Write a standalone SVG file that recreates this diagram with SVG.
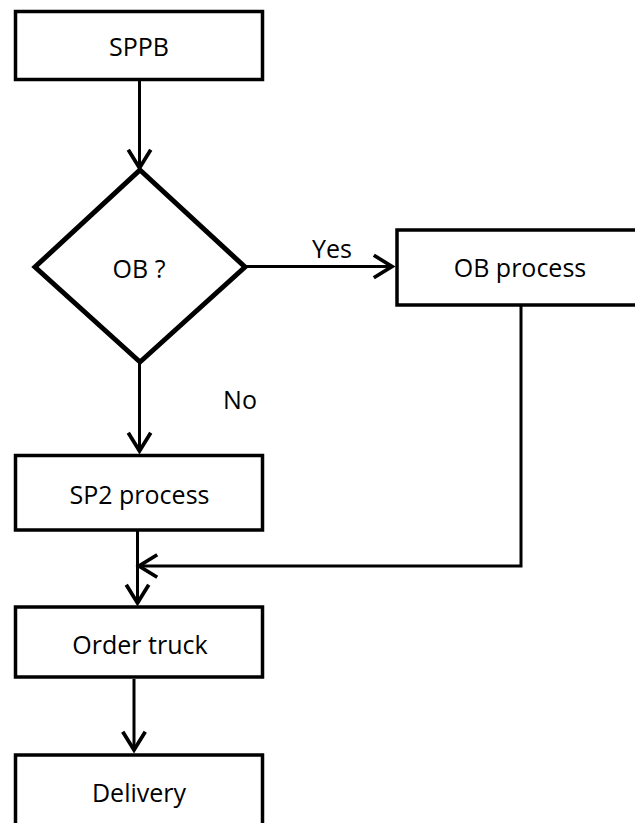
<svg xmlns="http://www.w3.org/2000/svg" width="635" height="823" viewBox="0 0 635 823">
<style>
.box{fill:#fff;stroke:#000;stroke-width:3.5}
.dia{fill:#fff;stroke:#000;stroke-width:5;stroke-linejoin:miter}
.lbl{font-family:"Open Sans","Noto Sans","Liberation Sans",sans-serif;font-size:25px;fill:#000;text-anchor:middle}
.con{fill:none;stroke:#000;stroke-width:3}
</style>
<defs>
<marker id="arr" markerUnits="userSpaceOnUse" markerWidth="30" markerHeight="30" viewBox="-20 -14 24 28" refX="0" refY="0" orient="auto" overflow="visible">
<path d="M-17,-10.5 L0,0 L-17,10.5" fill="none" stroke="#000" stroke-width="3.5"/>
</marker>
</defs>
<rect width="635" height="823" fill="#fff"/>
<g id="connectors">
<line class="con" x1="139.5" y1="80" x2="139.5" y2="168" marker-end="url(#arr)"/>
<line class="con" x1="139.5" y1="362" x2="139.5" y2="451" marker-end="url(#arr)"/>
<line class="con" x1="245" y1="266.5" x2="392" y2="266.5" marker-end="url(#arr)"/>
<polyline class="con" points="521,300 521,566 139,566" marker-end="url(#arr)"/>
<line class="con" x1="137.5" y1="531" x2="137.5" y2="603" marker-end="url(#arr)"/>
<line class="con" x1="134" y1="679" x2="134" y2="750" marker-end="url(#arr)"/>
<text class="lbl" x="332" y="258">Yes</text>
<text class="lbl" x="240" y="409">No</text>
</g>
<g id="sppb">
<rect class="box" x="15.5" y="11.5" width="247" height="68"/>
<text class="lbl" x="139" y="56">SPPB</text>
</g>
<g id="ob-decision">
<polygon class="dia" points="140,170 245,267 140,362 35,267"/>
<text class="lbl" x="139" y="278">OB ?</text>
</g>
<g id="ob-process">
<rect class="box" x="397" y="230" width="260" height="75"/>
<text class="lbl" x="520" y="277">OB process</text>
</g>
<g id="sp2-process">
<rect class="box" x="15.5" y="455.5" width="247" height="74.5"/>
<text class="lbl" x="139.5" y="504">SP2 process</text>
</g>
<g id="order-truck">
<rect class="box" x="15.5" y="607" width="247" height="70"/>
<text class="lbl" x="140" y="654">Order truck</text>
</g>
<g id="delivery">
<rect class="box" x="15.5" y="755" width="247" height="90"/>
<text class="lbl" x="139" y="802">Delivery</text>
</g>
</svg>
